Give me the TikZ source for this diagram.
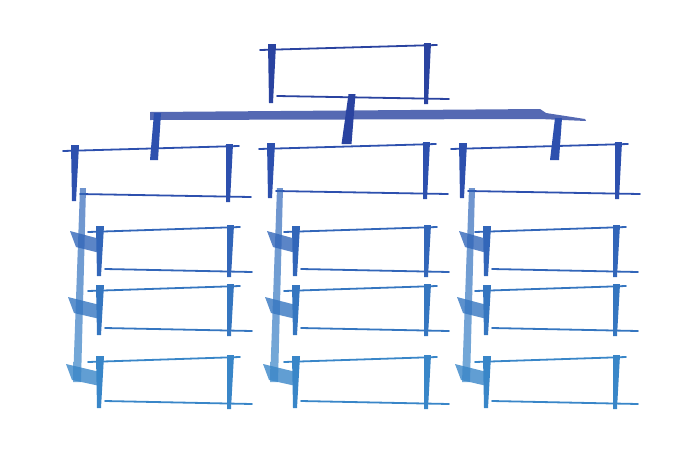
\documentclass[tikz,border=0pt]{standalone}
\usetikzlibrary{calc}
\definecolor{ctop}{HTML}{2A43A0}
\definecolor{cmid}{HTML}{2D50AE}
\definecolor{crowa}{HTML}{3266B9}
\definecolor{crowb}{HTML}{3576C0}
\definecolor{crowc}{HTML}{3986C8}
\tikzset{
  hstroke/.style={line width=1.8pt, line cap=round},
  conn/.style={line width=6pt, opacity=0.85},
}
% #1 name, #2 x left, #3 x right, #4 y top, #5 y bottom, #6 colour
\newcommand{\sketchbox}[6]{%
  \node[minimum width=#3pt-#2pt, minimum height=#5pt-#4pt, inner sep=0pt, draw=none]
    (#1) at ({(#2+#3)/2},{(#4+#5)/2}) {};
  \draw[hstroke,#6] (#2-12,#4+3) -- (#3+10,#4-2);
  \draw[hstroke,#6] (#2+5,#5-2) -- (#3+22,#5+1);
  \fill[#6] (#2-4,#4-3) -- (#2+4,#4-3) -- (#2+1,#5+5) -- (#2-3,#5+5) -- cycle;
  \fill[#6] (#3-3,#4-4) -- (#3+4,#4-4) -- (#3+1,#5+6) -- (#3-3,#5+6) -- cycle;
}
% stub: #1 spine x, #2 box left x, #3 y, #4 colour
\newcommand{\sketchstub}[4]{%
  \fill[#4, opacity=0.8] (#1-12,#3-11) -- (#2,#3-3) -- (#2,#3+11) -- (#1-6,#3+5) -- cycle;
}
\begin{document}
\begin{tikzpicture}[x=1pt,y=-1pt]
\useasboundingbox (0,0) rectangle (679,453);
% top box
\sketchbox{top}{272}{427}{47}{98}{ctop}
% horizontal bus
\coordinate (busL) at (152,114);
\coordinate (busR) at (585,119);
\fill[ctop, opacity=0.8] (150,112) -- (540,109) -- (546,113) -- (585,119) -- (586,121) -- (540,119) -- (150,120) -- cycle;
\fill[ctop] ($(top.south)+(-1,-4)$) -- ($(top.south)+(6,-4)$) -- ($(top.south)+(2,46)$) -- ($(top.south)+(-8,46)$) -- cycle;
% level 2
\sketchbox{ma}{75}{229}{148}{196}{cmid}
\sketchbox{mb}{271}{426}{146}{193}{cmid}
\sketchbox{mc}{463}{618}{146}{193}{cmid}
\fill[cmid] (154,113) -- (161,113) -- (158,160) -- (150,160) -- cycle;
\fill[cmid] (555,118) -- (562,118) -- (559,160) -- (550,160) -- cycle;
% children
\foreach \col/\xl/\xr/\sx in {a/100/230/82, b/296/427/279, c/487/616/471}{
  \sketchbox{\col1}{\xl}{\xr}{229}{271}{crowa}
  \sketchbox{\col2}{\xl}{\xr}{288}{330}{crowb}
  \sketchbox{\col3}{\xl}{\xr}{359}{403}{crowc}
  \coordinate (s\col) at (\sx,190);
  \coordinate (e\col) at (\sx-5,382);
  \shade[top color=crowa, bottom color=crowc, opacity=0.7]
    (\sx-2,188) -- (\sx+4,188) -- (\sx-1,382) -- (\sx-9,382) -- cycle;
  \sketchstub{\sx}{\xl}{242}{crowa}
  \sketchstub{\sx-2}{\xl}{308}{crowb}
  \sketchstub{\sx-4}{\xl}{375}{crowc}
}
\end{tikzpicture}
\end{document}
